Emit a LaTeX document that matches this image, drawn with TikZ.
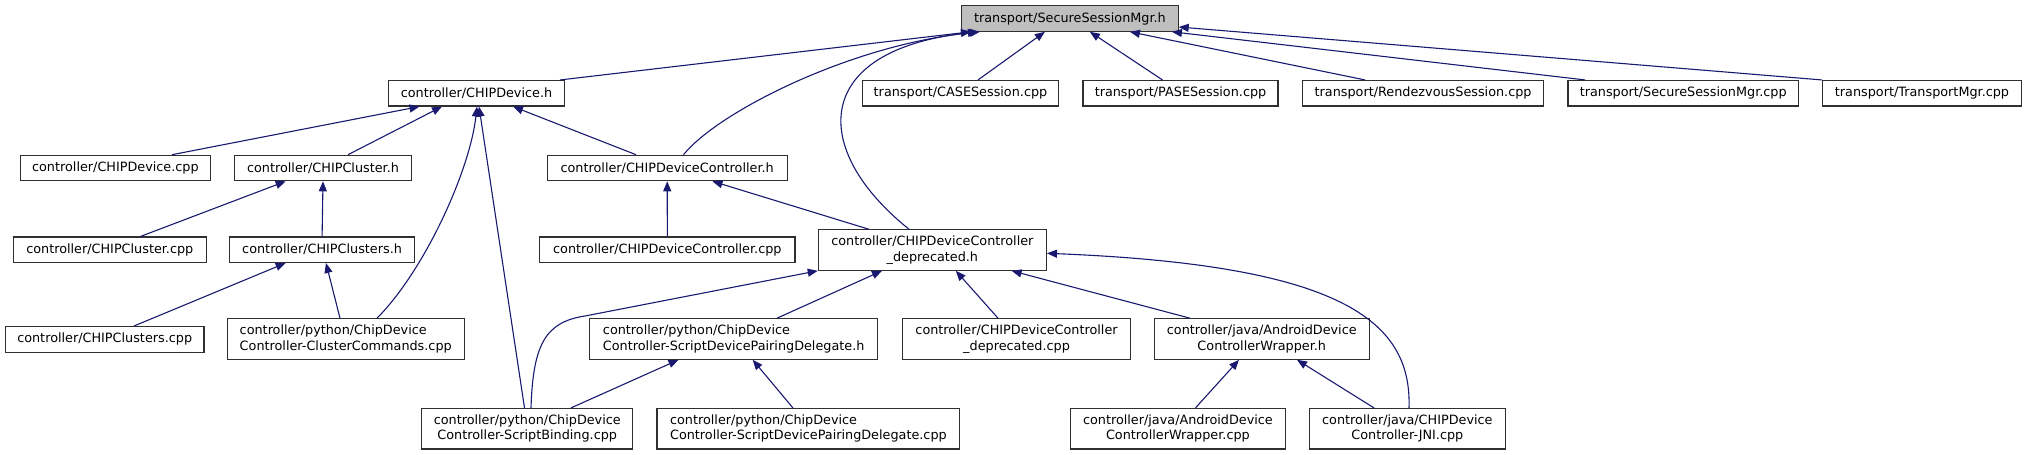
\documentclass[tikz,border=0pt]{standalone}
\usepackage{fontspec}
\setmainfont{DejaVu Sans}
\usetikzlibrary{positioning,arrows.meta}
\definecolor{midnight}{HTML}{191970}
\definecolor{rootgray}{HTML}{BFBFBF}
\definecolor{boxline}{HTML}{303030}

\begin{document}
\begin{tikzpicture}[
    x=1pt, y=-1pt,
    filebox/.style={
        draw=boxline,
        line width=1.1pt,
        fill=white,
        inner sep=0pt,
        align=center,
        minimum height=25.5pt,
        font=\fontsize{12.8}{15.3}\selectfont
    },
    twoline/.style={minimum height=40.5pt},
    rootbox/.style={filebox, fill=rootgray},
    incl/.style={midnight, line width=1.1pt, -{Triangle[length=10pt,width=8pt]}}
]
\useasboundingbox (0,0) rectangle (2027,455);

\node[rootbox, minimum width=216.5pt] (ssmh) at (1069.9,18.5) {transport/SecureSessionMgr.h};

\node[filebox, minimum width=176.3pt] (devh) at (476.5,93.25) {controller/CHIPDevice.h};
\node[filebox, minimum width=196pt] (cases) at (960.5,93.25) {transport/CASESession.cpp};
\node[filebox, minimum width=195pt] (pases) at (1180.5,93.25) {transport/PASESession.cpp};
\node[filebox, minimum width=241.6pt] (rendez) at (1423.1,93.25) {transport/RendezvousSession.cpp};
\node[filebox, minimum width=230.4pt] (ssmcpp) at (1683.2,93.25) {transport/SecureSessionMgr.cpp};
\node[filebox, minimum width=199pt] (tmgr) at (1922,93.25) {transport/TransportMgr.cpp};

\node[filebox, minimum width=190.6pt] (devcpp) at (115.4,168) {controller/CHIPDevice.cpp};
\node[filebox, minimum width=177.2pt] (clh) at (323,168) {controller/CHIPCluster.h};
\node[filebox, minimum width=239.8pt] (dch) at (667.2,168) {controller/CHIPDeviceController.h};

\node[filebox, minimum width=192.8pt] (clcpp) at (109.8,249.7) {controller/CHIPCluster.cpp};
\node[filebox, minimum width=184.4pt] (clsh) at (322.1,249.7) {controller/CHIPClusters.h};
\node[filebox, minimum width=255.3pt] (dccpp) at (667.35,249.7) {controller/CHIPDeviceController.cpp};
\node[filebox, twoline, minimum width=228.1pt] (dep) at (932.35,250)
    {controller/CHIPDeviceController\\\_deprecated.h};

\node[filebox, minimum width=198.6pt] (clscpp) at (104.7,339.3) {controller/CHIPClusters.cpp};
\node[filebox, twoline, align=left, minimum width=237.1pt] (clcmd) at (345.75,339)
    {controller/python/ChipDevice\\Controller-ClusterCommands.cpp};
\node[filebox, twoline, align=left, minimum width=288pt] (sdpdh) at (733.7,339)
    {controller/python/ChipDevice\\Controller-ScriptDevicePairingDelegate.h};
\node[filebox, twoline, minimum width=227.7pt] (depcpp) at (1016.55,339)
    {controller/CHIPDeviceController\\\_deprecated.cpp};
\node[filebox, twoline, minimum width=214.7pt] (awh) at (1261.75,339)
    {controller/java/AndroidDevice\\ControllerWrapper.h};

\node[filebox, twoline, minimum width=210.7pt] (sbind) at (527.25,428.7)
    {controller/python/ChipDevice\\Controller-ScriptBinding.cpp};
\node[filebox, twoline, align=left, minimum width=302.8pt] (sdpdcpp) at (808.4,428.7)
    {controller/python/ChipDevice\\Controller-ScriptDevicePairingDelegate.cpp};
\node[filebox, twoline, minimum width=214.8pt] (awcpp) at (1177.9,428.7)
    {controller/java/AndroidDevice\\ControllerWrapper.cpp};
\node[filebox, twoline, minimum width=196.1pt] (jni) at (1407.35,428.7)
    {controller/java/CHIPDevice\\Controller-JNI.cpp};

\draw[incl] ([xshift=83.5pt]devh.north) -- ([xshift=-99pt]ssmh.south);
\draw[incl] ([xshift=16.3pt]dch.north) .. controls (718,112) and (850,45) .. ([xshift=-90pt]ssmh.south);
\draw[incl] ([xshift=-23.35pt]dep.north) .. controls (810,150) and (810,50) .. ([xshift=-92pt]ssmh.south);
\draw[incl] ([xshift=17.5pt]cases.north) -- ([xshift=-25pt]ssmh.south);
\draw[incl] ([xshift=-18pt]pases.north) -- ([xshift=20pt]ssmh.south);
\draw[incl] ([xshift=-58pt]rendez.north) -- ([xshift=60pt]ssmh.south);
\draw[incl] ([xshift=-98pt]ssmcpp.north) -- ([xshift=102pt]ssmh.south);
\draw[incl] (tmgr.north west) -- ([yshift=-8.5pt]ssmh.east);

\draw[incl] ([xshift=56.6pt]devcpp.north) -- ([xshift=-57pt]devh.south);
\draw[incl] ([xshift=25pt]clh.north) -- ([xshift=-34.5pt]devh.south);
\draw[incl] ([xshift=31.25pt]clcmd.north) .. controls (425,270) and (470,170) .. ([xshift=0.5pt]devh.south);
\draw[incl] ([xshift=-2.75pt]sbind.north) -- ([xshift=2.5pt]devh.south);
\draw[incl] ([xshift=-31.2pt]dch.north) -- ([xshift=36.5pt]devh.south);

\draw[incl] ([xshift=30.8pt]clcpp.north) -- ([xshift=-37.3pt]clh.south);
\draw[incl] (clsh.north) -- (clh.south);
\draw[incl] ([xshift=29.3pt]clscpp.north) -- ([xshift=-36.4pt]clsh.south);
\draw[incl] ([xshift=-5.75pt]clcmd.north) -- ([xshift=3.9pt]clsh.south);

\draw[incl] (dccpp.north) -- (dch.south);
\draw[incl] ([xshift=-63.6pt]dep.north) -- ([xshift=45.3pt]dch.south);

\draw[incl] ([xshift=3.75pt]sbind.north) .. controls (533,345) and (545,322) .. (585,316) -- (dep.south west);
\draw[incl] ([xshift=43.3pt]sdpdh.north) -- ([xshift=-50.35pt]dep.south);
\draw[incl] ([xshift=-18.55pt]depcpp.north) -- ([xshift=23.45pt]dep.south);
\draw[incl] ([xshift=-71.75pt]awh.north) -- ([xshift=79.25pt]dep.south);
\draw[incl] ([xshift=1.65pt]jni.north) .. controls (1412,320) and (1340,265) .. ([yshift=-3.3pt]dep.east);

\draw[incl] ([xshift=43.75pt]sbind.north) -- ([xshift=-55.2pt]sdpdh.south);
\draw[incl] ([xshift=-15.5pt]sdpdcpp.north) -- ([xshift=19pt]sdpdh.south);
\draw[incl] ([xshift=17.6pt]awcpp.north) -- ([xshift=-22.75pt]awh.south);
\draw[incl] ([xshift=-33.35pt]jni.north) -- ([xshift=35.25pt]awh.south);
\end{tikzpicture}
\end{document}
